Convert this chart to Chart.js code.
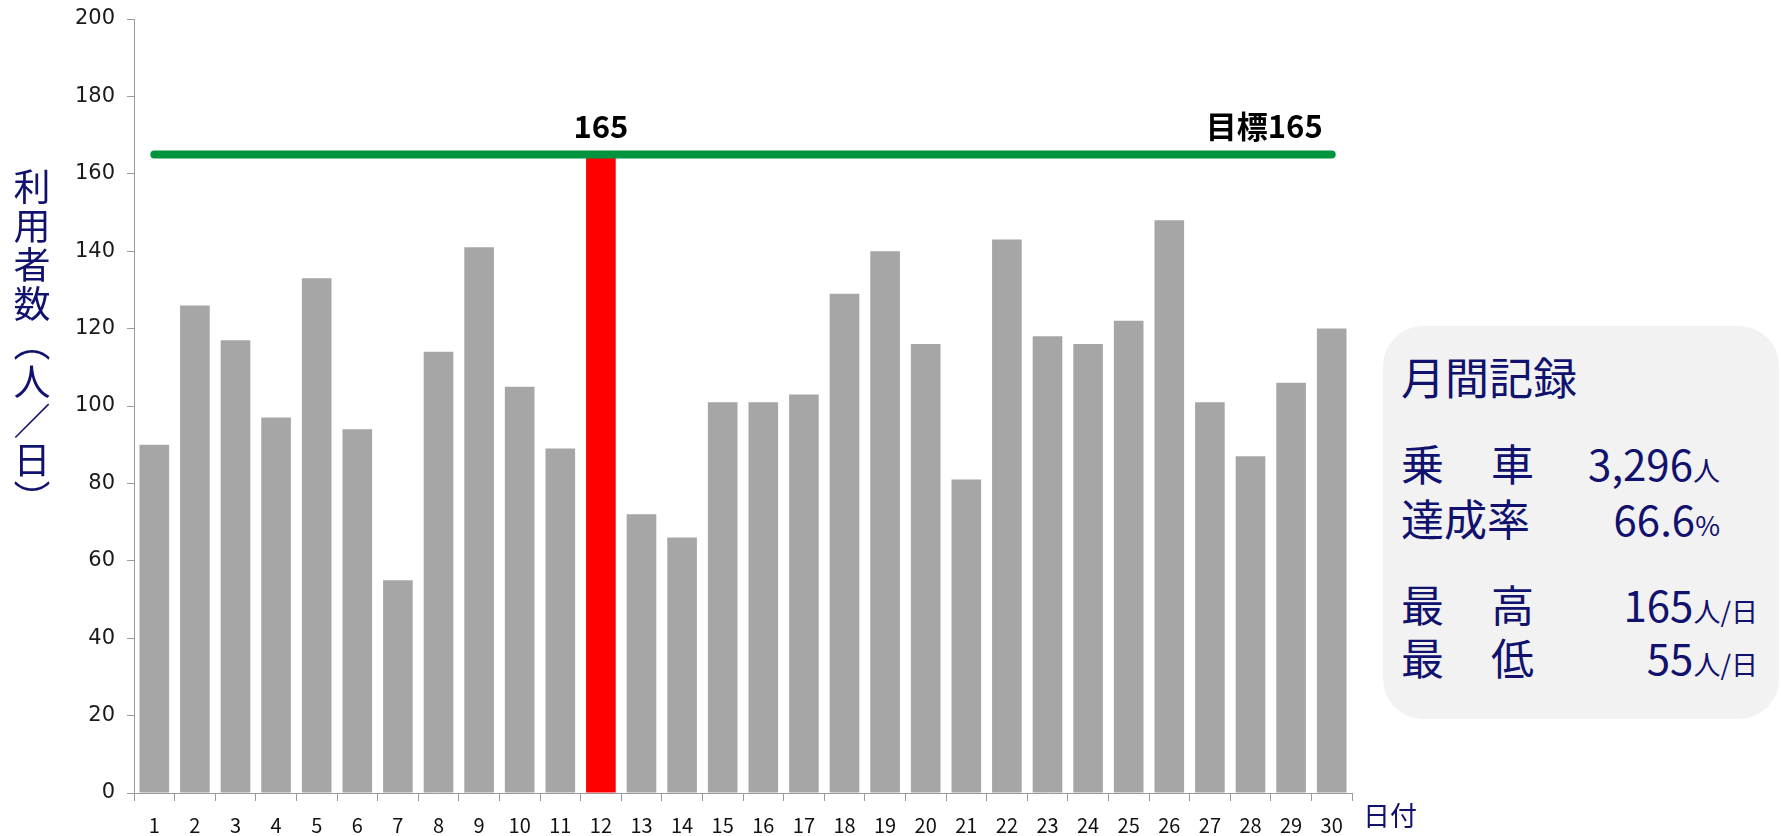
<!DOCTYPE html>
<html>
<head>
<meta charset="utf-8">
<script src="https://cdn.jsdelivr.net/npm/chart.js@4.4.1/dist/chart.umd.min.js"></script>
<style>
  body { margin: 0; background: #fff; }
  #wrap { position: relative; width: 1781px; height: 836px; overflow: hidden; }
  #chart { position: absolute; left: 0; top: 0; }
  .navy { color: #11116e; font-family: "Noto Sans CJK JP", sans-serif; position: absolute; white-space: nowrap; }
  #yTitle { left: 13px; top: 168px; font-size: 37px; line-height: 37px; letter-spacing: 2px; writing-mode: vertical-rl; text-orientation: upright; }
  #xTitle { left: 1363px; top: 801px; font-size: 27px; line-height: 27px; }
  #box { position: absolute; left: 1383px; top: 326px; width: 396px; height: 393px; border-radius: 40px; background: #f2f2f2; }
  .lbl { font-size: 43px; line-height: 43px; left: 1401px; }
  .pair { display: flex; justify-content: space-between; width: 133px; }
  .val { font-size: 42px; line-height: 43px; text-align: right; }
  .unit { font-size: 27px; }
</style>
</head>
<body>
<div id="wrap">
  <canvas id="chart" width="1781" height="836"></canvas>
  <div id="yTitle" class="navy">利用者数（人／日）</div>
  <div id="xTitle" class="navy">日付</div>
  <div id="box"></div>
  <div class="navy" style="left:1401px; top:354px; font-size:44px; line-height:44px;">月間記録</div>
  <div class="navy lbl pair" style="top:441px;"><span>乗</span><span>車</span></div>
  <div class="navy lbl" style="top:496px;">達成率</div>
  <div class="navy lbl pair" style="top:582px;"><span>最</span><span>高</span></div>
  <div class="navy lbl pair" style="top:635px;"><span>最</span><span>低</span></div>
  <div id="vTotal" class="navy val" style="right:61px; top:441px;"></div>
  <div id="vRate" class="navy val" style="right:61px; top:496px;"></div>
  <div id="vMax" class="navy val" style="right:23px; top:582px;"></div>
  <div id="vMin" class="navy val" style="right:23px; top:635px;"></div>
</div>
<script>
const days = ['1','2','3','4','5','6','7','8','9','10','11','12','13','14','15',
              '16','17','18','19','20','21','22','23','24','25','26','27','28','29','30'];
const riders = [90, 126, 117, 97, 133, 94, 55, 114, 141, 105, 89, 165, 72, 66, 101,
                101, 103, 129, 140, 116, 81, 143, 118, 116, 122, 148, 101, 87, 106, 120];
const target = 165;
const targetLine = days.map(() => target);

const total = riders.reduce((a, b) => a + b, 0);
const maxVal = Math.max(...riders);
const minVal = Math.min(...riders);
const rate = (total / (target * days.length) * 100).toFixed(1);

document.getElementById('vTotal').innerHTML = total.toLocaleString('en-US') + '<span class="unit">人</span>';
document.getElementById('vRate').innerHTML = rate + '<span class="unit">%</span>';
document.getElementById('vMax').innerHTML = maxVal + '<span class="unit">人/日</span>';
document.getElementById('vMin').innerHTML = minVal + '<span class="unit">人/日</span>';

const labelPlugin = {
  id: 'targetLabels',
  afterDatasetsDraw(chart) {
    const { ctx, scales: { x, y } } = chart;
    const maxIdx = riders.indexOf(maxVal);
    const yy = y.getPixelForValue(target) - 28;
    ctx.save();
    ctx.font = 'bold 31px "Noto Sans CJK JP"';
    ctx.fillStyle = '#000';
    ctx.textBaseline = 'middle';
    ctx.textAlign = 'center';
    ctx.fillText(String(maxVal), x.getPixelForValue(maxIdx), yy);
    ctx.textAlign = 'right';
    ctx.fillText('目標' + target, x.getPixelForValue(days.length - 1) - 9, yy);
    ctx.restore();
  }
};

new Chart(document.getElementById('chart').getContext('2d'), {
  type: 'bar',
  data: {
    labels: days,
    datasets: [
      {
        type: 'line',
        data: targetLine,
        borderColor: '#00943e',
        borderWidth: 8,
        borderCapStyle: 'round',
        pointRadius: 0,
        order: 0
      },
      {
        data: riders,
        backgroundColor: riders.map(v => v >= target ? '#ff0000' : '#a6a6a6'),
        barPercentage: 0.73,
        categoryPercentage: 1,
        order: 1
      }
    ]
  },
  options: {
    responsive: false,
    animation: false,
    layout: { padding: { left: 64, right: 429, top: 19, bottom: 0 } },
    plugins: { legend: { display: false }, tooltip: { enabled: false } },
    scales: {
      x: {
        afterFit: (s) => { s.height = 43; },
        grid: { drawOnChartArea: false, tickLength: 8, color: '#9a9a9a' },
        border: { color: '#9a9a9a', width: 1 },
        ticks: { color: '#111', padding: 12, font: { family: '"Noto Sans CJK JP"', size: 20 }, maxRotation: 0 }
      },
      y: {
        min: 0,
        max: 200,
        afterFit: (s) => { s.width = 70; s.paddingTop = 0; s.paddingBottom = 0; },
        grid: { drawOnChartArea: false, tickLength: 7, color: '#9a9a9a' },
        border: { color: '#9a9a9a', width: 1 },
        ticks: { stepSize: 20, color: '#1a1a1a', padding: 12, font: { family: '"DejaVu Sans"', size: 21 } }
      }
    }
  },
  plugins: [labelPlugin]
});
</script>
</body>
</html>
